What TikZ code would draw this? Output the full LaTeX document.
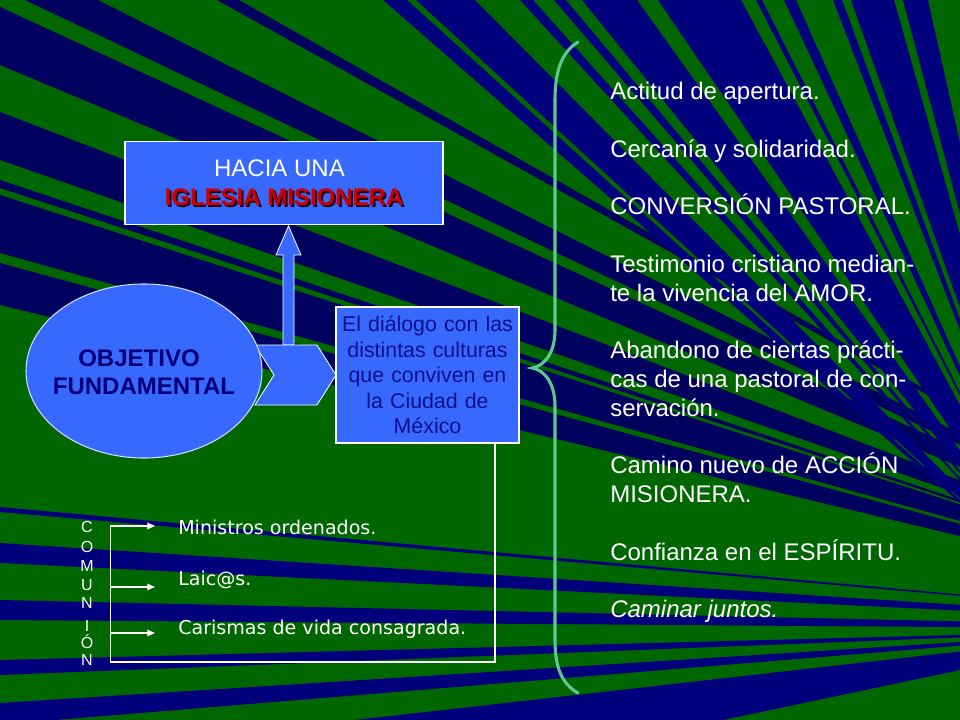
\documentclass[tikz,border=0pt]{standalone}
\usepackage{fontspec}
\setmainfont{Liberation Sans}
\newfontfamily\comicf{DejaVu Sans}
\usetikzlibrary{arrows.meta,shapes.geometric}
\definecolor{bggreen}{RGB}{0,102,0}
\definecolor{bgnavy}{RGB}{0,0,125}
\definecolor{bgnavyd}{RGB}{0,0,95}
\definecolor{boxblue}{RGB}{55,105,255}
\definecolor{txtnavy}{RGB}{0,0,120}
\definecolor{dialtxt}{RGB}{15,15,140}
\definecolor{bracegreen}{RGB}{95,200,145}
\definecolor{redtxt}{RGB}{204,0,0}
\definecolor{shadowc}{RGB}{40,0,20}
\tikzset{
  bluebox/.style={draw=white, line width=0.8pt, fill=boxblue, inner sep=0pt},
  wline/.style={draw=white, line width=0.8pt},
  warrow/.style={wline, -{Triangle[length=5.8pt,width=5pt]}},
  rtext/.style={anchor=base west, inner sep=0pt, text=white, font=\fontsize{18}{21.6}\selectfont},
  comtext/.style={anchor=base west, inner sep=0pt, text=white, font=\comicf\fontsize{14.3}{17}\selectfont},
  vletter/.style={anchor=base, inner sep=0pt, text=white, font=\fontsize{12}{14}\selectfont},
  objtext/.style={anchor=base, inner sep=0pt, text=txtnavy, font=\bfseries\fontsize{18}{21.6}\selectfont},
}
\begin{document}
\begin{tikzpicture}[x=0.75pt,y=-0.75pt]
\useasboundingbox (0,0) rectangle (960,720);
\fill[bggreen] (0,0) rectangle (960,720);
\coordinate (Ft) at (1060,590);
\coordinate (Fl) at (1350,630);
\coordinate (Fb) at (1150,630);
\begin{scope}
\clip (0,0) rectangle (960,720);
% left edge rays
\foreach \a/\b in {7/65,112/160,180/188,195/253,263/305}
  {\fill[bgnavyd] (Fl) -- (0,\a) -- (0,\b) -- cycle;}
\foreach \a/\b in {507/512,543/563,600/620}
  {\fill[bgnavy] (Fl) -- (0,\a) -- (0,\b) -- cycle;}
\fill[bgnavy] (Fb) -- (0,660) -- (0,675) -- cycle;
\fill[bgnavy] (Fb) -- (0,703) -- (0,720) -- (55,720) -- cycle;
\fill[bgnavy] (Fb) -- (355,720) -- (723,720) -- cycle;
% top edge rays
\foreach \a/\b in {25/98,217/239}
  {\fill[bgnavyd] (Fl) -- (\a,0) -- (\b,0) -- cycle;}
\foreach \a/\b in {383/407,416/475,520/533,554/566,582/637,658/741,756/762,784/796,833/842,851/894,903/928}
  {\fill[bgnavy] (Ft) -- (\a,0) -- (\b,0) -- cycle;}
\end{scope}

% brace
\draw[bracegreen, line width=2.3pt, line cap=round]
  (578,42) .. controls (562,52) and (555,70) .. (555,100) -- (555,330)
  .. controls (555,352) and (545,366) .. (532,368)
  .. controls (545,370) and (555,384) .. (555,406) -- (555,640)
  .. controls (555,668) and (562,684) .. (578,693);

% top box
\node[bluebox, minimum width=238.5pt, minimum height=62.25pt] (hacia) at (284,183) {};
\node[anchor=base, inner sep=0pt, text=white, font=\fontsize{18}{21.6}\selectfont] (hacia1) at (279.5,177) {HACIA UNA};
\node[anchor=base, inner sep=0pt, text=shadowc, font=\bfseries\fontsize{18}{21.6}\selectfont] (iglsh) at (286,208) {IGLESIA MISIONERA};
\node[anchor=base, inner sep=0pt, text=redtxt, font=\bfseries\fontsize{18}{21.6}\selectfont] (igl) at (284,206) {IGLESIA MISIONERA};

% up arrow
\draw[fill=boxblue, draw=white, line width=0.6pt]
  (283,345) -- (283,255) -- (276,255) -- (288.5,226) -- (301,255) -- (294,255) -- (294,345) -- cycle;

% chevron
\draw[fill=boxblue, draw=white, line width=0.6pt]
  (255,345) -- (317,345) -- (336,375) -- (317,405) -- (255,405) -- (274,375) -- cycle;

% ellipse
\node[ellipse, draw=white!75!boxblue, line width=0.8pt, fill=boxblue, minimum width=177pt, minimum height=130.5pt, inner sep=0pt] (obj) at (144,371) {};
\node[objtext] (obj1) at (139,366) {OBJETIVO};
\node[objtext] (obj2) at (144,394) {FUNDAMENTAL};

% dialog box
\node[bluebox, minimum width=137.25pt, minimum height=102pt, text width=135pt, align=center,
      text=dialtxt, font=\fontsize{16}{19.2}\selectfont] (dial) at (427.5,375)
  {El diálogo con las\\distintas culturas\\que conviven en\\la Ciudad de\\México};

% connectors
\coordinate (c1) at (495,662);
\coordinate (c2) at (110.7,662);
\coordinate (c3) at (110.7,526);
\coordinate (m2) at (110.7,587);
\coordinate (m3) at (110.7,633);
\coordinate (a1) at (155,526);
\coordinate (a2) at (155,587);
\coordinate (a3) at (155,633);
\draw[warrow] (dial.south -| c1) -- (c1) -- (c2) -- (c3) -- (a1);
\draw[warrow] (m2) -- (a2);
\draw[warrow] (m3) -- (a3);

% comunion items
\node[comtext] (t1) at (178,534) {Ministros ordenados.};
\node[comtext] (t2) at (178,585) {Laic@s.};
\node[comtext] (t3) at (178,634) {Carismas de vida consagrada.};

% vertical COMUNION
\node[vletter] (v1) at (87,532) {C};
\node[vletter] (v2) at (87,552.5) {O};
\node[vletter] (v3) at (87,571.5) {M};
\node[vletter] (v4) at (87,590) {U};
\node[vletter] (v5) at (87,608.5) {N};
\node[vletter] (v6) at (87,631.5) {I};
\node[vletter] (v7) at (87,648) {Ó};
\node[vletter] (v8) at (87,665) {N};

% right text
\node[rtext] (r1) at (610,100) {Actitud de apertura.};
\node[rtext] (r2) at (610,157.5) {Cercanía y solidaridad.};
\node[rtext] (r3) at (610,215) {CONVERSIÓN PASTORAL.};
\node[rtext] (r4) at (610,272.5) {Testimonio cristiano median-};
\node[rtext] (r5) at (610,301.25) {te la vivencia del AMOR.};
\node[rtext] (r6) at (610,358.75) {Abandono de ciertas prácti-};
\node[rtext] (r7) at (610,387.5) {cas de una pastoral de con-};
\node[rtext] (r8) at (610,416.25) {servación.};
\node[rtext] (r9) at (610,473.75) {Camino nuevo de ACCIÓN};
\node[rtext] (r10) at (610,502.5) {MISIONERA.};
\node[rtext] (r11) at (610,560) {Confianza en el ESPÍRITU.};
\node[rtext] (r12) at (610,617.5) {\itshape Caminar juntos.};
\end{tikzpicture}
\end{document}
